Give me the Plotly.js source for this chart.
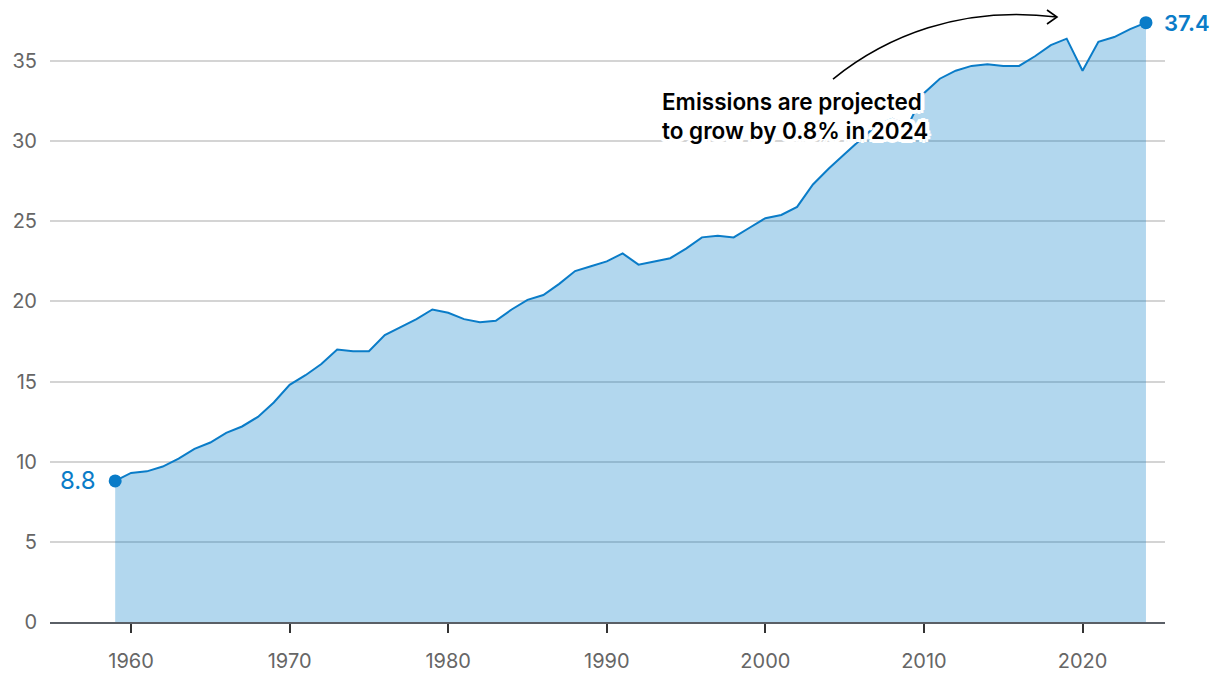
<!DOCTYPE html>
<html>
<head>
<meta charset="utf-8">
<script src="https://cdn.plot.ly/plotly-3.0.1.min.js"></script>
<style>html,body{margin:0;padding:0;background:#fff;}#chart{width:1220px;height:678px;}</style>
</head>
<body>
<div id="chart"></div>
<script>
const years = [];
for (let y = 1959; y <= 2024; y++) years.push(y);
const emissions = [
  8.8, 9.3, 9.4, 9.7, 10.2, 10.8, 11.2, 11.8, 12.2, 12.8, 13.7,
  14.8, 15.4, 16.1, 17.0, 16.9, 16.9, 17.9, 18.4, 18.9, 19.5,
  19.3, 18.9, 18.7, 18.8, 19.5, 20.1, 20.4, 21.1, 21.9, 22.2,
  22.5, 23.0, 22.3, 22.5, 22.7, 23.3, 24.0, 24.1, 24.0, 24.6,
  25.2, 25.4, 25.9, 27.3, 28.3, 29.2, 30.1, 31.0, 31.4, 31.0,
  33.0, 33.9, 34.4, 34.7, 34.8, 34.7, 34.7, 35.3, 36.0, 36.4,
  34.4, 36.2, 36.5, 37.0, 37.4
];
const yTicks = [0, 5, 10, 15, 20, 25, 30, 35];
const xTicks = [1960, 1970, 1980, 1990, 2000, 2010, 2020];
const noteText = "Emissions are projected<br>to grow by 0.8% in 2024";

const W = 1220, H = 678;
const M = {l: 50, r: 55, t: 5, b: 56};
const xRange = [1954.89, 2025.2];
const yRange = [0, 38.5];
const pw = W - M.l - M.r, ph = H - M.t - M.b;
const px2x = p => xRange[0] + (p - M.l) / pw * (xRange[1] - xRange[0]);
const py2y = p => yRange[0] + (H - M.b - p) / ph * (yRange[1] - yRange[0]);
const pt = (a, b) => px2x(a).toFixed(3) + "," + py2y(b).toFixed(3);

const blue = "#0a7cc8";
const first = 0, last = years.length - 1;
const halo = "4px 0 0 #fff, -4px 0 0 #fff, 0 4px 0 #fff, 0 -4px 0 #fff, 3px 3px 0 #fff, -3px -3px 0 #fff, 3px -3px 0 #fff, -3px 3px 0 #fff";

const traces = [
  {
    x: years, y: emissions, type: "scatter", mode: "lines",
    line: {color: blue, width: 2},
    fill: "tozeroy", fillcolor: "rgba(0,122,200,0.3)",
    hoverinfo: "x+y"
  },
  {
    x: [years[first], years[last]], y: [emissions[first], emissions[last]],
    type: "scatter", mode: "markers",
    marker: {color: blue, size: 13},
    hoverinfo: "skip"
  }
];

const layout = {
  width: W, height: H,
  margin: M,
  showlegend: false,
  paper_bgcolor: "#fff", plot_bgcolor: "#fff",
  font: {family: "Inter, Roboto, sans-serif", color: "#666"},
  xaxis: {
    range: xRange, tickvals: xTicks, ticks: "outside", ticklen: 9, tickwidth: 2,
    tickcolor: "#333", showgrid: false, zeroline: false,
    showline: true, linecolor: "#5a5f66", linewidth: 2,
    tickfont: {size: 20, color: "#666"}, ticklabelstandoff: 11
  },
  yaxis: {
    range: yRange, tickvals: yTicks, showgrid: true, gridcolor: "#d4d4d4", gridwidth: 2,
    zeroline: false, showline: false, ticks: "",
    tickfont: {size: 20, color: "#666"}, ticklabelstandoff: 12
  },
  annotations: [
    {
      x: years[first], y: emissions[first], xref: "x", yref: "y",
      text: String(emissions[first]), showarrow: false,
      xanchor: "right", yanchor: "middle", xshift: -17,
      font: {size: 24, color: blue, family: "Inter, Roboto, sans-serif", weight: 400}
    },
    {
      x: years[last], y: emissions[last], xref: "x", yref: "y",
      text: String(emissions[last]), showarrow: false,
      xanchor: "left", yanchor: "middle", xshift: 16,
      font: {size: 22, color: blue, family: "Inter, Roboto, sans-serif", weight: 600}
    },
    {
      x: px2x(660), y: py2y(116), xref: "x", yref: "y",
      text: noteText, showarrow: false, align: "left",
      xanchor: "left", yanchor: "middle",
      font: {size: 22.5, color: "#000", family: "Inter, Roboto, sans-serif", weight: 600, shadow: halo}
    }
  ],
  shapes: [
    {
      type: "path", xref: "x", yref: "y",
      path: "M" + pt(833, 79) + " C" + pt(885, 37) + " " + pt(960, 5) + " " + pt(1057, 17),
      line: {color: "#000", width: 1.6}
    },
    {
      type: "path", xref: "x", yref: "y",
      path: "M" + pt(1047, 10) + " L" + pt(1057, 17) + " L" + pt(1047, 24),
      line: {color: "#000", width: 1.6}
    }
  ]
};

Plotly.newPlot("chart", traces, layout, {displayModeBar: false, staticPlot: true});
</script>
</body>
</html>
